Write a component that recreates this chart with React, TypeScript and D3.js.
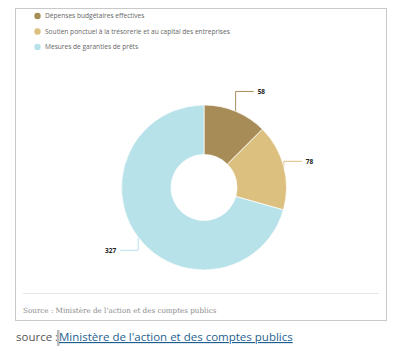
import React from "react";
import * as d3 from "d3";

const categories = [
  "Dépenses budgétaires effectives",
  "Soutien ponctuel à la trésorerie et au capital des entreprises",
  "Mesures de garanties de prêts",
];
const values = [58, 78, 327];
const colors = ["#a88c57", "#dcc07f", "#b8e2ea"];
const sourceText = "Source : Ministère de l'action et des comptes publics";
const linkText = "Ministère de l'action et des comptes publics";

export default function App() {
  const W = 404;
  const H = 356;
  const cx = 204;
  const cy = 187.5;
  const outerR = 82.5;
  const innerR = 33;

  const data = categories.map((c, i) => ({ c, v: values[i], col: colors[i] }));
  const pie = d3
    .pie<any>()
    .value((d: any) => d.v)
    .sort(null)
    .startAngle(0)
    .endAngle(2 * Math.PI);
  const arcs = pie(data);
  const arcGen = d3.arc<any>().innerRadius(innerR).outerRadius(outerR);

  return (
    <svg
      width={W}
      height={H}
      style={{ position: "absolute", left: 0, top: 0, background: "#fff" }}
    >
      <rect x={15.5} y={8.5} width={371} height={312} fill="#fff" stroke="#c9c9c9" strokeWidth={1} />
      {/* legend */}
      {categories.map((c, i) => (
        <g key={c} transform={`translate(0, ${16 + i * 15.5})`}>
          <circle cx={37.5} cy={0} r={3.2} fill={colors[i]} />
          <text
            x={45}
            y={2.4}
            fontFamily="'Open Sans', sans-serif"
            fontSize={6.6}
            fill="#666"
          >
            {c}
          </text>
        </g>
      ))}
      {/* pie */}
      <g transform={`translate(${cx},${cy})`}>
        {arcs.map((a, i) => {
          const mid = (a.startAngle + a.endAngle) / 2;
          const px = outerR * Math.sin(mid);
          const py = -outerR * Math.cos(mid);
          const ey = -104 * Math.cos(mid);
          const dir = Math.sin(mid) >= 0 ? 1 : -1;
          const hx = px + dir * 18;
          return (
            <g key={i}>
              <path
                d={`M${px},${py}L${px},${ey}L${hx},${ey}`}
                fill="none"
                stroke={colors[i]}
                strokeWidth={1}
              />
              <text
                x={hx + dir * 4}
                y={ey + 2.3}
                textAnchor={dir > 0 ? "start" : "end"}
                fontFamily="'Open Sans', sans-serif"
                fontSize={6.5}
                fontWeight="bold"
                fill="#222"
              >
                {values[i]}
              </text>
            </g>
          );
        })}
        {arcs.map((a, i) => (
          <path key={"s" + i} d={arcGen(a) as string} fill={colors[i]} stroke="#fff" strokeWidth={0.7} />
        ))}
      </g>
      <line x1={23} x2={379} y1={293.5} y2={293.5} stroke="#e6e6e6" strokeWidth={1} />
      <text x={23} y={312.5} fontFamily="'DejaVu Serif', serif" fontSize={7.2} fill="#8a8a8a">
        {sourceText}
      </text>
      {/* outer source */}
      <text x={16} y={341} fontFamily="'Open Sans', sans-serif" fontSize={11.5} fill="#555">
        source :
      </text>
      <rect x={57} y={330} width={2.5} height={16} fill="#bbbbbb" />
      <text
        x={59}
        y={341}
        fontFamily="'Open Sans', sans-serif"
        fontSize={11.5}
        fill="#1f5f8f"
        textDecoration="underline"
      >
        {linkText}
      </text>
    </svg>
  );
}
